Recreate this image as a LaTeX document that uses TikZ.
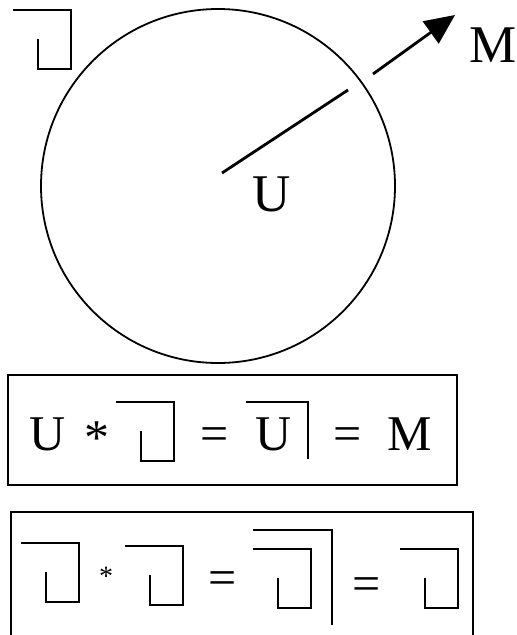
\documentclass[tikz,border=0pt]{standalone}
\usepackage{fontspec}
\setmainfont{Liberation Serif}
\usetikzlibrary{arrows.meta}
% corner mark, given by its top right corner
\newcommand{\hookmark}[2]{%
	\draw[markline] (#1-58,#2) -- (#1,#2) -- (#1,#2+59) -- (#1-33,#2+59) -- (#1-33,#2+29);}

\begin{document}
\begin{tikzpicture}[x=1pt,y=-1pt]
	\tikzstyle{markline} = [line width=1.5pt];
	\tikzstyle{big} = [inner sep=0pt, anchor=base, font=\fontsize{53}{53}\selectfont];
	\tikzstyle{mid} = [inner sep=0pt, anchor=base, font=\fontsize{50}{50}\selectfont];
	\tikzstyle{small} = [inner sep=0pt, anchor=base, font=\fontsize{28}{28}\selectfont];
	\useasboundingbox (0,0) rectangle (517,635);
	
	% circle with radius and arrow
	\node[draw, circle, line width=1.8pt, minimum size=354pt, inner sep=0pt] (C) at (218,186) {};
	\coordinate (R1) at (222,173);
	\coordinate (R2) at (348,90);
	\draw[line width=2.8pt] (R1) -- (R2);
	\coordinate (A1) at (373,74);
	\coordinate (A2) at (455,15);
	\draw[line width=2.8pt, -{Triangle[length=30pt,width=27pt]}] (A1) -- (A2);
	\node[big] (U) at (272,211) {U};
	\node[big] (M) at (493,62) {M};
	\hookmark{71}{10}
	
	% first equation
	\node[draw, line width=1.4pt, minimum width=449pt, minimum height=110pt, inner sep=0pt] (E1) at (232.5,430) {};
	\node[mid] (EU) at (48,450) {U};
	\node[mid] (ES) at (97,454) {*};
	\hookmark{174}{402}
	\node[mid] (EQa) at (215,450) {=};
	\node[mid] (EV) at (274,450) {U};
	\draw[markline] (246,402) -- (308,402) -- (308,459);
	\node[mid] (EQb) at (348,450) {=};
	\node[mid] (EM) at (410,450) {M};
	
	% second equation
	\draw[line width=1.4pt] (11,640) -- (11,512) -- (473,512) -- (473,640);
	\hookmark{79}{543}
	\node[small] (FS) at (106,585) {*};
	\hookmark{183}{546}
	\node[mid] (FQa) at (223,594) {=};
	\draw[markline] (253,530) -- (332,530) -- (332,625);
	\hookmark{311}{549}
	\node[mid] (FQb) at (367,600) {=};
	\hookmark{458}{549}
\end{tikzpicture}
\end{document}
